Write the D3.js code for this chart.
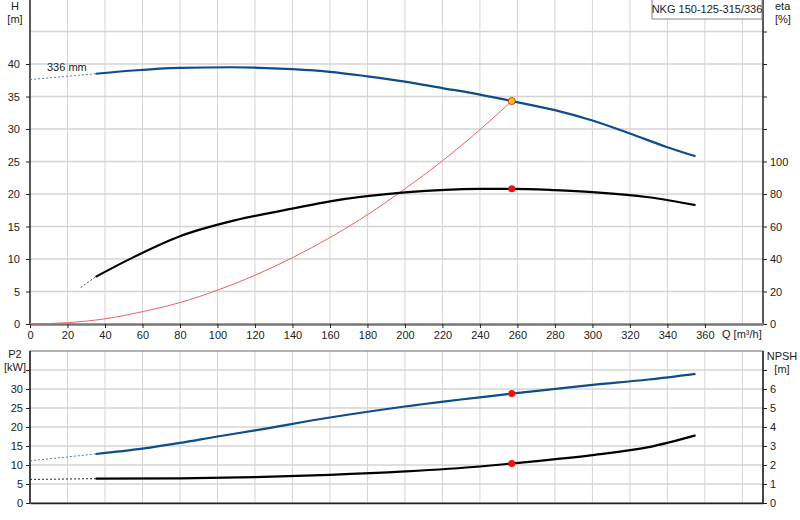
<!DOCTYPE html><html><head><meta charset="utf-8"><script src="https://cdn.jsdelivr.net/npm/d3@7"></script>
<style>body{margin:0;background:#fff}text{font-family:Arial,"Liberation Sans",sans-serif;font-size:11px;fill:#222}</style></head><body><svg id="c" width="800" height="520"></svg><script>
const qTicks=d3.range(0,361,20);
const hTicks=[0,5,10,15,20,25,30,35,40];
const etaTicks=[0,20,40,60,80,100];
const p2Ticks=[0,5,10,15,20,25,30];
const npshTicks=[0,1,2,3,4,5,6];
const hQ=[35,55,80,107,140,160,180,200,220,240,257,280,300,320,340,355];
const hV=[38.5,39,39.4,39.5,39.2,38.8,38.1,37.3,36.3,35.3,34.3,32.9,31.3,29.3,27.2,25.8];
const hDashQ=[0,35], hDashV=[37.6,38.5];
const etaQ=[35,55,80,110,140,160,200,240,257,280,300,330,355];
const etaV=[29,41,54,64,71,75.5,81,83.2,83.2,82.4,81.2,78,73.2];
const etaDashQ=[27,35], etaDashV=[22.4,29];
const sysQ=[0,20,40,60,80,100,120,140,160,180,200,220,240,257];
const sysV=[0,0.2,0.8,1.9,3.3,5.2,7.5,10.2,13.3,16.8,20.8,25.1,29.9,34.3];
const p2Q=[35,60,80,100,120,160,200,257,300,330,355];
const p2V=[12.9,14.3,15.8,17.5,19.1,22.5,25.4,28.8,31.1,32.5,34.0];
const p2DashQ=[0,35], p2DashV=[11.1,12.9];
const npQ=[35,80,120,160,200,240,257,300,330,355];
const npV=[1.28,1.3,1.36,1.48,1.66,1.92,2.08,2.52,2.94,3.56];
const npDashQ=[0,35], npDashV=[1.24,1.28];
const duty={q:257,h:34.3,eta:83.2,p2:28.8,npsh:2.08};
const title="NKG 150-125-315/336";

const svg=d3.select("#c");
const x=d3.scaleLinear().domain([0,391]).range([30,763]);
const yH=d3.scaleLinear().domain([0,50]).range([324,-1]);
const yE=d3.scaleLinear().domain([0,200]).range([324,-1]);
const yP=d3.scaleLinear().domain([0,40]).range([503,351]);
const yN=d3.scaleLinear().domain([0,8]).range([503,351]);
function grid(y0,y1,yScale,vals){
  const g=svg.append("g");
  g.selectAll(".v").data(d3.range(20,391,20)).join("line").attr("x1",d=>x(d)).attr("x2",d=>x(d)).attr("y1",y0).attr("y2",y1).attr("stroke","#d4d4d4");
  g.selectAll(".h").data(vals).join("line").attr("x1",30).attr("x2",763).attr("y1",d=>yScale(d)).attr("y2",d=>yScale(d)).attr("stroke","#d4d4d4").attr("stroke-width",1.5);
}
grid(0,324,yH,[5,10,15,20,25,30,35,40,45]);
grid(351,503,yP,[5,10,15,20,25,30,35]);
svg.append("rect").attr("x",30).attr("y",351).attr("width",733).attr("height",152).attr("fill","none").attr("stroke","#666");
// axes
const axL=svg.append("g").attr("transform","translate(30,0)").call(d3.axisLeft(yH).tickValues(hTicks).tickSize(4).tickPadding(6));
const axR=svg.append("g").attr("transform","translate(763,0)").call(d3.axisRight(yE).tickValues([0,20,40,60,80,100,120,140,160,180]).tickSize(4).tickFormat(d=>d<=100?d:""));
const axB=svg.append("g").attr("transform","translate(0,324)").call(d3.axisBottom(x).tickValues(qTicks).tickSize(4).tickSizeOuter(0));
const axP=svg.append("g").attr("transform","translate(30,0)").call(d3.axisLeft(yP).tickValues([0,5,10,15,20,25,30,35]).tickSize(4).tickFormat(d=>d<=30?d:""));
const axN=svg.append("g").attr("transform","translate(763,0)").call(d3.axisRight(yN).tickValues([0,1,2,3,4,5,6,7]).tickSize(4).tickFormat(d=>d<=6?d:""));
const axB2=svg.append("g").attr("transform","translate(0,503)").call(d3.axisBottom(x).tickValues([]).tickSizeOuter(0));
[axL,axR,axB,axP,axN,axB2].forEach(a=>{a.selectAll("text").style("font-size","11px").attr("fill","#222");a.selectAll("path,line").attr("stroke","#222");a.select(".domain").attr("stroke-width",1.5)});
axB.select(".domain").attr("stroke","#777").attr("stroke-width",2.5);
axL.select(".domain").attr("d","M0,0V324");axR.select(".domain").attr("d","M0,0V324");
axP.select(".domain").attr("d","M0,351V503");axN.select(".domain").attr("d","M0,351V503");
// labels
const t=(s,xx,yy,a)=>svg.append("text").attr("x",xx).attr("y",yy).attr("text-anchor",a||"middle").text(s);
t("H",15,10);t("[m]",15,23);t("eta",775,10,"start");t("[%]",775,23,"start");
t("P2",15,358);t("[kW]",15,371);t("NPSH",782,360);t("[m]",782,373);
t("Q [m³/h]",722,338,"start");t("336 mm",47,71,"start");
svg.append("rect").attr("x",652).attr("y",-1).attr("width",110).attr("height",20).attr("fill","#fff").attr("stroke","#888");
t(title,707,13);
// curves
const zip=(a,b)=>a.map((q,i)=>[q,b[i]]);
function curve(q,v,ys,col,w,dash){svg.append("path").datum(zip(q,v)).attr("fill","none").attr("stroke",col).attr("stroke-width",w).attr("stroke-dasharray",dash||null)
 .attr("d",d3.line().x(d=>x(d[0])).y(d=>ys(d[1])).curve(d3.curveMonotoneX));}
curve(sysQ,sysV,yH,"#f06060",1);
curve(hDashQ,hDashV,yH,"#557aa5",1,"2,2");curve(hQ,hV,yH,"#0e4c8a",2.2);
curve(etaDashQ,etaDashV,yE,"#555",1,"2,2");curve(etaQ,etaV,yE,"#000",2.2);
curve(p2DashQ,p2DashV,yP,"#557aa5",1,"2,2");curve(p2Q,p2V,yP,"#0e4c8a",2.2);
curve(npDashQ,npDashV,yN,"#222",1,"2,2");curve(npQ,npV,yN,"#000",2.2);
const dot=(yy,f)=>svg.append("circle").attr("cx",x(duty.q)).attr("cy",yy).attr("r",3.5).attr("fill",f).attr("stroke",f=="#f5d000"?"#e03020":"none").attr("stroke-width",1);
dot(yH(duty.h),"#f5d000");dot(yE(duty.eta),"#f01010");dot(yP(duty.p2),"#f01010");dot(yN(duty.npsh),"#f01010");
</script></body></html>
